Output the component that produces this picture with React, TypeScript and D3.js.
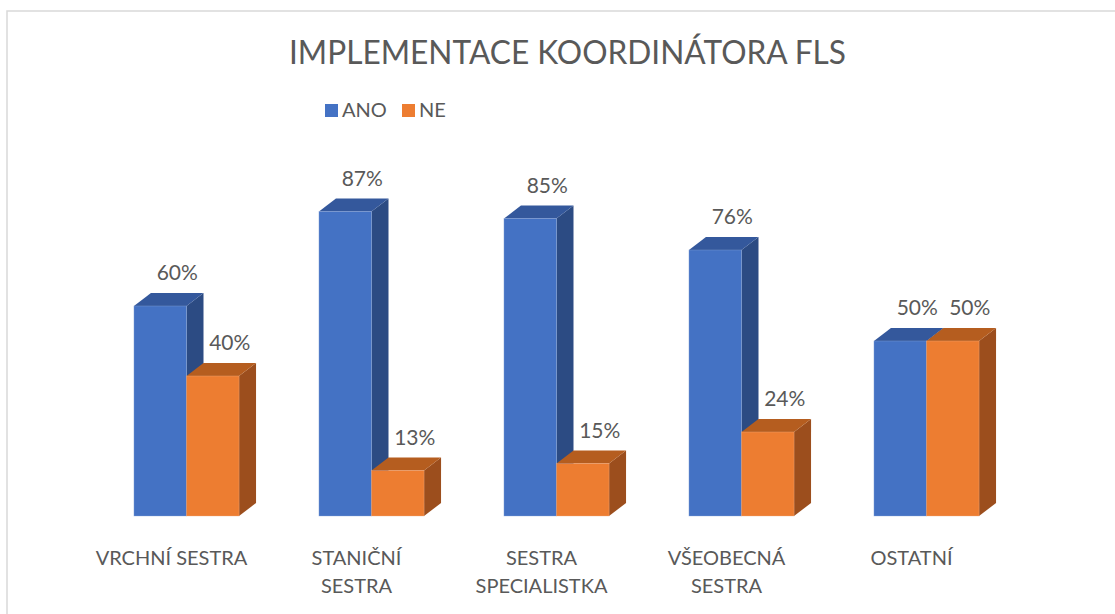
import React from "react";
import * as d3 from "d3";

const categories = ["VRCHNÍ SESTRA", "STANIČNÍ SESTRA", "SESTRA SPECIALISTKA", "VŠEOBECNÁ SESTRA", "OSTATNÍ"];
const categoryLines = [["VRCHNÍ SESTRA"], ["STANIČNÍ", "SESTRA"], ["SESTRA", "SPECIALISTKA"], ["VŠEOBECNÁ", "SESTRA"], ["OSTATNÍ"]];
const seriesNames = ["ANO", "NE"];
const anoValues = [60, 87, 85, 76, 50];
const neValues = [40, 13, 15, 24, 50];
const title = "IMPLEMENTACE KOORDINÁTORA FLS";

const W = 1115;
const H = 614;
const FONT = "Lato, 'Open Sans', sans-serif";
const TXT = "#595959";

const colors = {
  ANO: { front: "#4472C4", top: "#34589C", side: "#2C4B83", edge: "#8FAADC" },
  NE: { front: "#ED7D31", top: "#B55D1F", side: "#9C4E1D", edge: "#F4B183" },
};

const DX = 17;
const DY = 13;

export default function App() {
  const x = d3.scaleBand<string>().domain(categories).range([94, 1019]).padding(0);
  const pairW = x.bandwidth() * 0.568;
  const sx = d3.scaleBand<string>().domain(seriesNames).range([0, pairW]).padding(0);
  const y = d3.scaleLinear().domain([0, 100]).range([516, 166]);
  const bw = sx.bandwidth();

  const bars: JSX.Element[] = [];
  const labels: JSX.Element[] = [];
  categories.forEach((c, i) => {
    const cx = (x(c) as number) + x.bandwidth() / 2;
    const left = cx - pairW / 2;
    seriesNames.forEach((s, j) => {
      const v = j === 0 ? anoValues[i] : neValues[i];
      const col = colors[s as "ANO" | "NE"];
      const x0 = left + (sx(s) as number);
      const x1 = x0 + bw;
      const yt = y(v);
      const yb = y(0);
      const side = `${x1},${yt} ${x1 + DX},${yt - DY} ${x1 + DX},${yb - DY} ${x1},${yb}`;
      const top = `${x0},${yt} ${x0 + DX},${yt - DY} ${x1 + DX},${yt - DY} ${x1},${yt}`;
      bars.push(
        <g key={`${c}-${s}`}>
          <polygon points={side} fill={col.side} />
          <polygon points={top} fill={col.top} />
          <rect x={x0} y={yt} width={bw} height={yb - yt} fill={col.front} stroke={col.edge} strokeWidth={0.6} strokeOpacity={0.6} />
        </g>
      );
      labels.push(
        <text key={`l-${c}-${s}`} x={(x0 + x1) / 2 + DX} y={yt - DY - 13} textAnchor="middle" fontSize={21} fill={TXT} fontFamily={FONT}>
          {`${v}%`}
        </text>
      );
    });
  });

  return (
    <svg width={W} height={H} style={{ position: "absolute", left: 0, top: 0, background: "#fff" }}>
      <rect x={7} y={11} width={W} height={H} fill="#fff" stroke="#d9d9d9" strokeWidth={1.5} />
      <text x={567.5} y={64} textAnchor="middle" fontSize={32} fill={TXT} fontFamily={FONT} textLength={557} lengthAdjust="spacingAndGlyphs">
        {title}
      </text>
      {seriesNames.map((s, j) => {
        const lx = j === 0 ? 325 : 402;
        const col = colors[s as "ANO" | "NE"];
        return (
          <g key={s}>
            <rect x={lx} y={104} width={13} height={13} fill={col.front} />
            <text x={lx + 17} y={117} fontSize={20} fill={TXT} fontFamily={FONT}>
              {s}
            </text>
          </g>
        );
      })}
      {bars}
      {labels}
      {categories.map((c, i) => {
        const cx = (x(c) as number) + x.bandwidth() / 2 - 15;
        return (
          <text key={c} textAnchor="middle" fontSize={20} fill={TXT} fontFamily={FONT}>
            {categoryLines[i].map((ln, k) => (
              <tspan key={k} x={cx} y={565 + k * 28}>
                {ln}
              </tspan>
            ))}
          </text>
        );
      })}
    </svg>
  );
}
